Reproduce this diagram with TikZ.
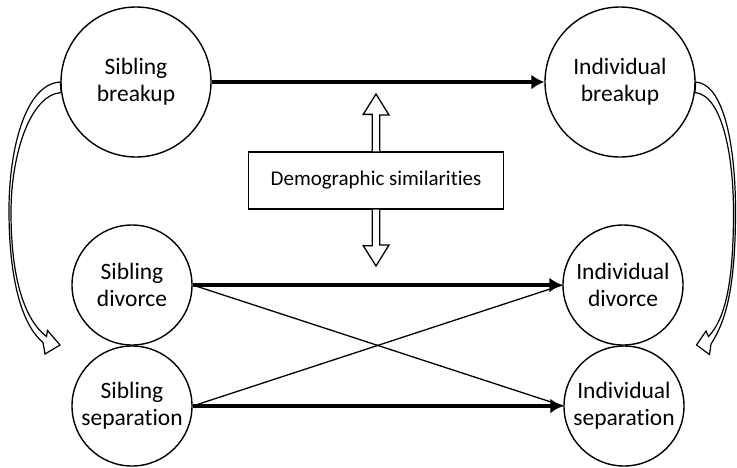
\documentclass[tikz,border=0pt]{standalone}
\usepackage{fontspec}
\setmainfont{Carlito}[Ligatures=NoCommon]
\usetikzlibrary{arrows.meta,positioning}

\begin{document}
\begin{tikzpicture}[x=1pt, y=-1pt,
  bigcirc/.style={draw, circle, line width=1.4pt, minimum size=150pt, inner sep=0pt, align=center, font=\fontsize{23.5}{27}\selectfont},
  smallcirc/.style={bigcirc, minimum size=120pt},
  demobox/.style={draw, line width=1.3pt, minimum width=255pt, minimum height=57pt, inner sep=0pt, font=\fontsize{21}{25}\selectfont},
  mainarr/.style={-{Latex[length=13pt,width=15pt]}, line width=4pt},
  crossline/.style={line width=1.3pt},
  blockarr/.style={draw, line width=1.3pt, fill=white, line join=miter},
  curvearr/.style={draw, line width=1.2pt, fill=white, line join=miter},
]
\useasboundingbox (0,0) rectangle (737,467);

% Breakup (top)
\node[bigcirc] (sb) at (136,82) {Sibling\\breakup};
\node[bigcirc] (ib) at (620,82) {Individual\\breakup};

% Divorce and separation (bottom)
\node[smallcirc] (sd) at (132,285) {Sibling\\divorce};
\node[smallcirc] (ss) at (132,406) {Sibling\\separation};
\node[smallcirc] (id) at (623,285) {Individual\\divorce};
\node[smallcirc] (is) at (624,406) {Individual\\separation};

% Middle box
\node[demobox] (demo) at (376,180.5) {Demographic similarities};
\coordinate (upTip) at (376,94);
\coordinate (downTip) at (376,266);

% Arrows
\draw[crossline] (sd.east) -- (is.west);
\draw[crossline] (ss.east) -- (id.west);
\draw[mainarr] (sb) -- (ib);
\draw[mainarr] (sd) -- (id);
\draw[mainarr] (ss) -- (is);

% Double block arrow
\draw[blockarr] ([xshift=-3.75pt]demo.north) -- ++(0,-37) -- ++(-9,0) -- (upTip)
  -- ++(13,21) -- ++(-9.25,0) -- ([xshift=3.75pt]demo.north);
\draw[blockarr] ([xshift=-3.75pt]demo.south) -- ++(0,36) -- ++(-9,0) -- (downTip)
  -- ++(13,-21) -- ++(-9.25,0) -- ([xshift=3.75pt]demo.south);

% Curved arrows (sides)
\coordinate (sibTip) at (60,345);
\coordinate (indTip) at (696.5,345);
\draw[curvearr] (sb.west) .. controls (25,84) and (9,150) .. (9,210)
  .. controls (9,280) and (22,325) .. (43,342.5) -- (45,354) -- (sibTip)
  -- (47.5,330.5) -- (46.5,336.5) .. controls (25,320) and (11,280) .. (11,212)
  .. controls (11,155) and (30,95) .. (sb.188) -- cycle;
\draw[curvearr] (ib.east) .. controls (725,84) and (735.5,150) .. (735.5,210)
  .. controls (735.5,280) and (728,318) .. (711,344) -- (709.5,354.5) -- (indTip)
  -- (706,331) -- (708.5,336.5) .. controls (726,318) and (733.5,280) .. (733.5,212)
  .. controls (733.5,155) and (722,95) .. (ib.352) -- cycle;
\end{tikzpicture}
\end{document}
